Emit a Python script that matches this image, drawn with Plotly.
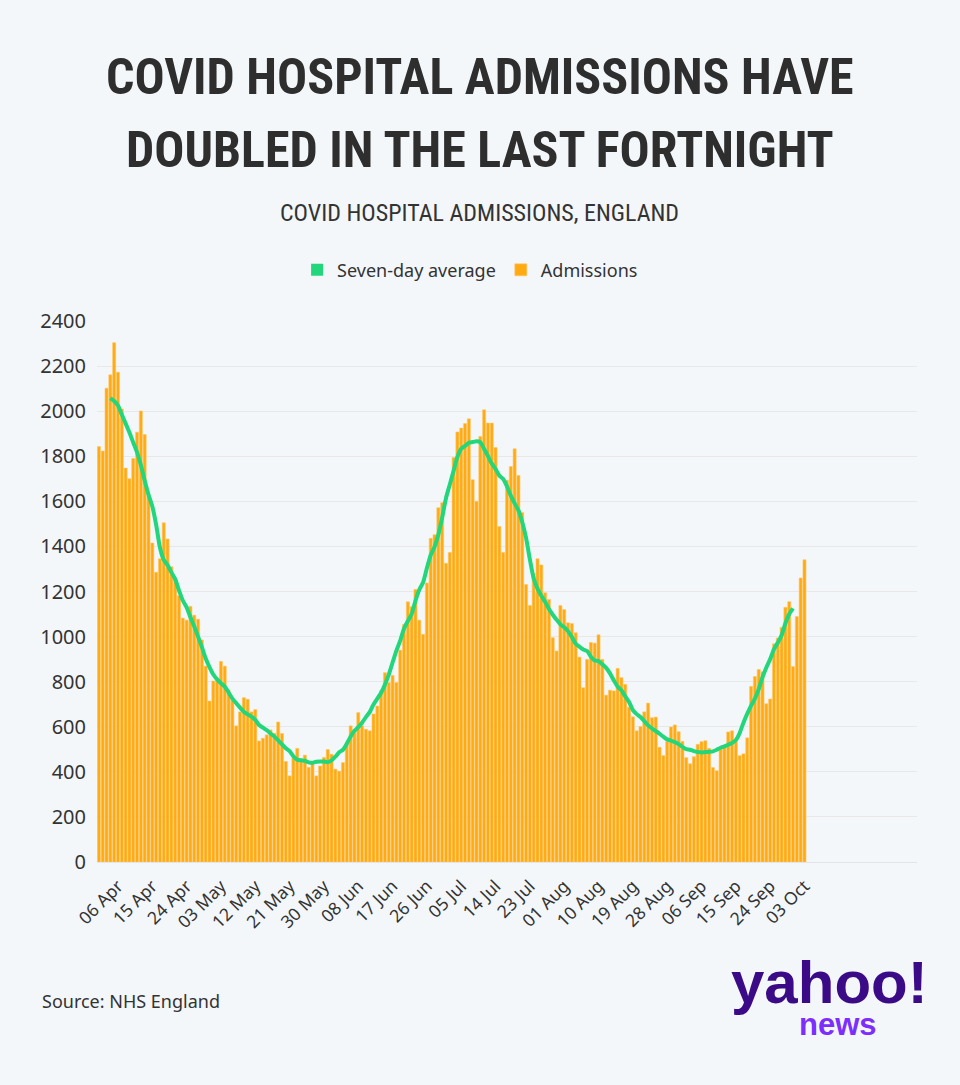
import pandas as pd
import plotly.graph_objects as go

# Daily admissions, 01 Apr 2022 -> 03 Oct 2022
admissions = [
    1843, 1823, 2102, 2161, 2304, 2173, 2010, 1748, 1700, 1790,
    1907, 2001, 1896, 1620, 1415, 1285, 1345, 1505, 1433, 1310,
    1255, 1181, 1082, 1073, 1134, 1095, 1077, 985, 869, 714,
    803, 815, 890, 869, 763, 717, 604, 666, 729, 722,
    666, 676, 537, 549, 564, 586, 571, 621, 570, 446,
    382, 461, 504, 458, 474, 420, 440, 382, 426, 464,
    499, 478, 412, 403, 441, 530, 604, 574, 663, 604,
    589, 582, 657, 692, 760, 840, 796, 828, 796, 940,
    1054, 1154, 1132, 1209, 1073, 1010, 1238, 1436, 1452, 1572,
    1594, 1325, 1373, 1795, 1908, 1925, 1945, 1966, 1696, 1600,
    1888, 2006, 1947, 1947, 1839, 1488, 1373, 1694, 1754, 1833,
    1715, 1550, 1231, 1138, 1280, 1345, 1318, 1194, 1165, 995,
    936, 1138, 1120, 1061, 1058, 1017, 909, 773, 899, 974,
    971, 1008, 899, 740, 762, 759, 859, 818, 788, 687,
    644, 582, 601, 666, 705, 640, 643, 509, 472, 535,
    599, 608, 578, 535, 463, 436, 467, 522, 534, 538,
    504, 419, 405, 501, 507, 577, 582, 542, 472, 480,
    551, 779, 823, 854, 844, 702, 723, 968, 994, 1041,
    1130, 1155, 867, 1089, 1260, 1341,
]

# Seven-day average, 04 Apr 2022 -> 30 Sep 2022
seven_day_avg = [
    2058, 2045, 2025, 1985, 1946, 1905, 1861, 1817, 1761, 1692,
    1630, 1578, 1497, 1395, 1340, 1317, 1285, 1255, 1205, 1160,
    1130, 1086, 1045, 1000, 953, 903, 865, 832, 810, 793,
    778, 752, 725, 705, 685, 667, 655, 645, 630, 608,
    596, 585, 570, 557, 540, 522, 505, 492, 469, 454,
    451, 449, 442, 440, 445, 446, 446, 443, 451, 467,
    487, 498, 525, 557, 582, 598, 618, 643, 665, 699,
    725, 751, 787, 831, 885, 938, 982, 1036, 1069, 1100,
    1159, 1208, 1240, 1304, 1362, 1398, 1453, 1528, 1614, 1675,
    1736, 1797, 1833, 1846, 1860, 1863, 1866, 1863, 1832, 1801,
    1768, 1743, 1714, 1699, 1666, 1625, 1591, 1560, 1507, 1438,
    1342, 1258, 1213, 1181, 1154, 1122, 1097, 1075, 1054, 1041,
    1024, 998, 968, 955, 943, 936, 911, 894, 891, 877,
    861, 837, 806, 778, 762, 735, 710, 674, 656, 643,
    625, 606, 593, 581, 569, 556, 544, 538, 532, 523,
    511, 501, 498, 492, 488, 486, 488, 489, 491, 498,
    507, 513, 520, 528, 541, 572, 618, 658, 694, 725,
    767, 820, 863, 900, 944, 973, 1006, 1059, 1100, 1125,
]

tick_labels = [
    "06 Apr", "15 Apr", "24 Apr", "03 May", "12 May", "21 May", "30 May",
    "08 Jun", "17 Jun", "26 Jun", "05 Jul", "14 Jul", "23 Jul", "01 Aug",
    "10 Aug", "19 Aug", "28 Aug", "06 Sep", "15 Sep", "24 Sep", "03 Oct",
]
tick_dates = pd.to_datetime([t + " 2022" for t in tick_labels], format="%d %b %Y")

bar_dates = pd.date_range("2022-04-01", periods=len(admissions), freq="D")
avg_dates = pd.date_range("2022-04-04", periods=len(seven_day_avg), freq="D")

BG = "#F3F7FA"
ORANGE = "#FFAA12"
GREEN = "#22D67C"
TEXT = "#333333"
TICK_GREY = "#E3E3E3"

fig = go.Figure()

# legend-only swatch so the average gets a square key like the original
fig.add_trace(
    go.Bar(
        x=[None], y=[None], name="Seven-day average",
        marker={"color": GREEN, "line": {"width": 0}},
    )
)
fig.add_trace(
    go.Bar(
        x=bar_dates,
        y=admissions,
        name="Admissions",
        marker={"color": ORANGE, "line": {"color": "#FFC868", "width": 0.6}},
        hovertemplate="%{x|%d %b}: %{y}<extra></extra>",
    )
)
fig.add_trace(
    go.Scatter(
        x=avg_dates,
        y=seven_day_avg,
        mode="lines",
        line={"color": GREEN, "width": 4, "shape": "spline", "smoothing": 0.6},
        name="Seven-day average",
        showlegend=False,
        hovertemplate="%{x|%d %b}: %{y}<extra></extra>",
    )
)
# small tick under every day that has a bar (none past the last day)
fig.add_trace(
    go.Scatter(
        x=bar_dates,
        y=[-18] * len(bar_dates),
        mode="markers",
        marker={"symbol": "line-ns", "size": 8, "line": {"color": TICK_GREY, "width": 1}},
        cliponaxis=False,
        showlegend=False,
        hoverinfo="skip",
    )
)

fig.update_layout(
    width=960,
    height=1085,
    paper_bgcolor=BG,
    plot_bgcolor=BG,
    margin={"l": 97, "r": 43, "t": 321, "b": 223},
    bargap=0.2,
    font={"family": "Noto Sans", "color": TEXT},
    legend={
        "orientation": "h",
        "x": 0.455,
        "xanchor": "center",
        "y": 1.094,
        "yanchor": "middle",
        "font": {"size": 18, "color": TEXT},
        "bgcolor": "rgba(0,0,0,0)",
        "traceorder": "normal",
    },
    xaxis={
        "type": "date",
        "range": ["2022-03-31 12:00", "2022-11-01 12:00"],
        "tickvals": tick_dates,
        "ticktext": tick_labels,
        "tickangle": -45,
        "tickfont": {"size": 17.5, "color": TEXT},
        "showgrid": False,
        "showline": True,
        "linecolor": "#E4E4E4",
        "linewidth": 1,
        "ticks": "",
        "ticklabelstandoff": 6,
        "fixedrange": True,
    },
    yaxis={
        "range": [0, 2400],
        "tickvals": list(range(0, 2401, 200)),
        "tickfont": {"size": 20, "color": TEXT},
        "showgrid": True,
        "gridcolor": "#E8E8E8",
        "zeroline": False,
        "ticks": "",
        "ticklabelstandoff": 10,
        "fixedrange": True,
    },
)

title_font = {"family": "Roboto Condensed", "size": 50, "color": "#2E2E2E", "weight": "bold"}
annotations = [
    dict(text="COVID HOSPITAL ADMISSIONS HAVE", x=0.467, y=1.451, font=title_font),
    dict(text="DOUBLED IN THE LAST FORTNIGHT", x=0.467, y=1.316, font=title_font),
    dict(
        text="COVID HOSPITAL ADMISSIONS, ENGLAND", x=0.467, y=1.2,
        font={"family": "Roboto Condensed", "size": 24, "color": TEXT},
    ),
    dict(
        text="Source: NHS England", x=-0.0695, y=-0.257, xanchor="left",
        font={"family": "Noto Sans", "size": 18, "color": TEXT},
    ),
    dict(
        text="yahoo!", x=0.893, y=-0.222,
        font={"family": "Liberation Sans", "size": 60, "color": "#3B0A86", "weight": "bold"},
    ),
    dict(
        text="news", x=0.904, y=-0.301,
        font={"family": "Liberation Sans", "size": 31, "color": "#7D2EFF", "weight": "bold"},
    ),
]
for ann in annotations:
    ann.setdefault("xanchor", "center")
    fig.add_annotation(xref="paper", yref="paper", yanchor="middle", showarrow=False, **ann)

fig.write_html(
    "out.html",
    config={"displayModeBar": False},
    post_script="document.body.style.margin = '0';",
)
